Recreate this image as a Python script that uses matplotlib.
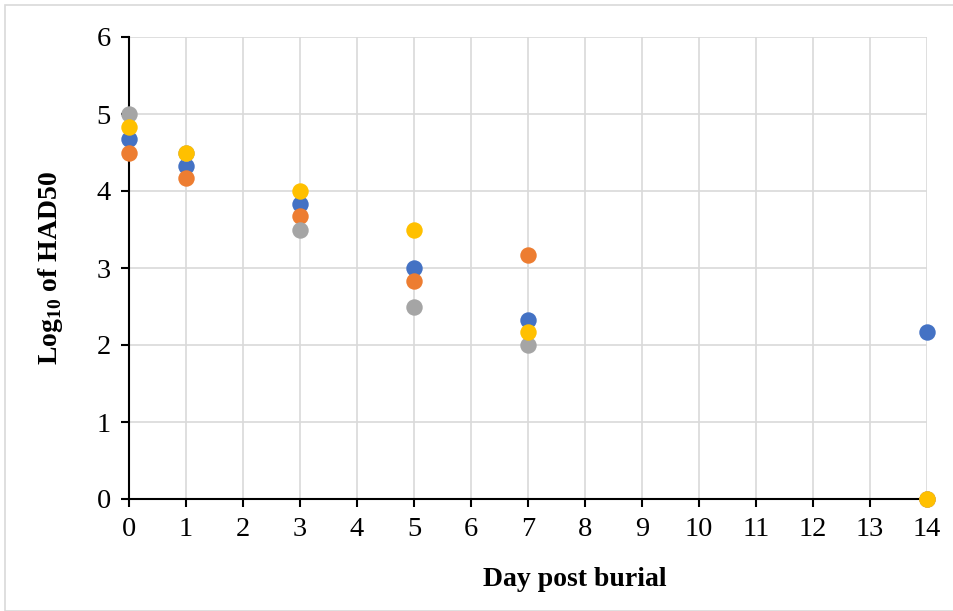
import numpy as np
import matplotlib
matplotlib.use('Agg')
from matplotlib import pyplot as plt
from matplotlib.patches import Rectangle

# days post burial
days = [0, 1, 3, 5, 7, 14]

# log10 HAD50 per series (Excel default colour order)
series1 = [4.67, 4.33, 3.83, 3.0, 2.33, 2.17]
series2 = [4.5, 4.17, 3.67, 2.83, 3.17, 0.0]
series3 = [5.0, 4.5, 3.5, 2.5, 2.0, 0.0]
series4 = [4.83, 4.5, 4.0, 3.5, 2.17, 0.0]

colors = ['#4472C4', '#ED7D31', '#A5A5A5', '#FFC000']

plt.rcParams['font.family'] = ['Liberation Serif', 'DejaVu Serif']
plt.rcParams['mathtext.fontset'] = 'custom'
plt.rcParams['mathtext.rm'] = 'Liberation Serif'
plt.rcParams['mathtext.bf'] = 'Liberation Serif:bold'

fig = plt.figure(figsize=(9.54, 6.11), dpi=100)
ax = fig.add_axes([129/954, 1-499/611, (927-129)/954, (499-37)/611])

for ys, c in zip([series1, series2, series3, series4], colors):
    ax.scatter(days, ys, s=140, color=c, zorder=3, clip_on=False, linewidths=0)

ax.set_xlim(0, 14)
ax.set_ylim(0, 6)
ax.set_xticks(np.arange(0, 15, 1))
ax.set_yticks(np.arange(0, 7, 1))
ax.grid(True, color='#D9D9D9', linewidth=1.2, zorder=0)
ax.set_axisbelow(True)

for s in ['top', 'right']:
    ax.spines[s].set_visible(False)
for s in ['left', 'bottom']:
    ax.spines[s].set_linewidth(1.5)
    ax.spines[s].set_zorder(2)

ax.tick_params(direction='out', length=6, width=1.5, labelsize=20.5, pad=7)

ax.set_xlabel('Day post burial', fontsize=20, fontweight='bold')
ax.set_ylabel('Log$_{\\mathbf{10}}$ of HAD50', fontsize=20, fontweight='bold')
ax.xaxis.set_label_coords(0.559, -0.148)
ax.yaxis.set_label_coords(-0.08, 0.5)

# light frame round the chart area
fig.patches.append(Rectangle((5/954, 0), 1, 1 - 5/611, transform=fig.transFigure,
                             fill=False, edgecolor='#D9D9D9', linewidth=1.2))

fig.savefig('out.png', dpi=100)
